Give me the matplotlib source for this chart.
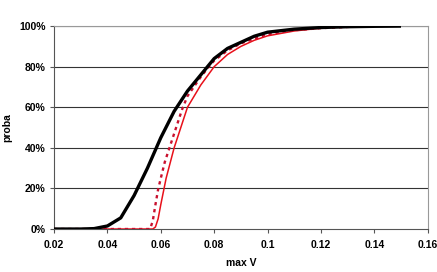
"""
CDF of max V, three runs (Excel-style line chart)
"""
import matplotlib
matplotlib.use('Agg')
import matplotlib.pyplot as plt
from matplotlib.ticker import PercentFormatter

# black curve
black_x = [0.02, 0.03, 0.035, 0.04, 0.045, 0.05, 0.055, 0.06, 0.065, 0.07,
           0.075, 0.08, 0.085, 0.09, 0.095, 0.1, 0.11, 0.12, 0.13, 0.14, 0.15]
black_p = [0.0, 0.0, 0.002, 0.015, 0.055, 0.165, 0.30, 0.45, 0.58, 0.68,
           0.76, 0.84, 0.89, 0.92, 0.95, 0.97, 0.985, 0.993, 0.997, 0.999, 1.0]

# red solid curve
red_x = [0.02, 0.057, 0.058, 0.059, 0.06, 0.062, 0.065, 0.0675, 0.07, 0.075,
         0.08, 0.085, 0.09, 0.095, 0.1, 0.11, 0.12, 0.125]
red_p = [0.0, 0.0, 0.01, 0.05, 0.12, 0.25, 0.40, 0.50, 0.60, 0.71,
         0.80, 0.86, 0.90, 0.93, 0.952, 0.976, 0.99, 0.995]

# red dotted curve
dot_x = [0.02, 0.056, 0.057, 0.058, 0.059, 0.06, 0.0615, 0.063, 0.065, 0.068,
         0.07, 0.075, 0.078, 0.08, 0.085, 0.09, 0.1, 0.11, 0.12, 0.13, 0.135]
dot_p = [0.0, 0.0, 0.04, 0.12, 0.195, 0.25, 0.33, 0.39, 0.47, 0.59,
         0.655, 0.75, 0.80, 0.83, 0.88, 0.915, 0.96, 0.98, 0.99, 0.996, 0.998]

x_ticks = [0.02, 0.04, 0.06, 0.08, 0.1, 0.12, 0.14, 0.16]
x_labels = ['0.02', '0.04', '0.06', '0.08', '0.1', '0.12', '0.14', '0.16']
y_ticks = [0, 0.2, 0.4, 0.6, 0.8, 1.0]

plt.rcParams['font.family'] = ['Liberation Sans', 'DejaVu Sans']

fig = plt.figure(figsize=(4.37, 2.72), dpi=100)
ax = fig.add_axes([0.1236, 0.158, 0.8551, 0.746])

# gridlines
for y in y_ticks[1:]:
    ax.axhline(y, color='#333333', lw=0.8, zorder=1)

ax.plot(red_x, red_p, color='#e8101a', lw=1.1, zorder=3)
ax.plot(dot_x, dot_p, color='#c8102e', lw=1.7, ls=(0, (1.4, 1.6)), zorder=3)
ax.plot(black_x, black_p, color='black', lw=2.4, zorder=4, solid_capstyle='butt')

ax.set_xlim(0.02, 0.16)
ax.set_ylim(0, 1.0)
ax.set_xticks(x_ticks)
ax.set_xticklabels(x_labels)
ax.set_yticks(y_ticks)
ax.yaxis.set_major_formatter(PercentFormatter(1.0, decimals=0))

for lab in ax.get_xticklabels() + ax.get_yticklabels():
    lab.set_fontweight('bold')
    lab.set_fontsize(7.5)

ax.tick_params(direction='out', length=3, width=0.8, color='#555555', pad=3)
ax.tick_params(axis='x', pad=5)

for side in ['left', 'bottom']:
    ax.spines[side].set_color('#555555')
    ax.spines[side].set_linewidth(0.8)
for side in ['right', 'top']:
    ax.spines[side].set_color('#999999')
    ax.spines[side].set_linewidth(0.8)

ax.set_xlabel('max V', fontsize=7.5, fontweight='bold', labelpad=6)
ax.set_ylabel('proba', fontsize=7.5, fontweight='bold', labelpad=5)

fig.savefig('out.png', dpi=100)
plt.close()
